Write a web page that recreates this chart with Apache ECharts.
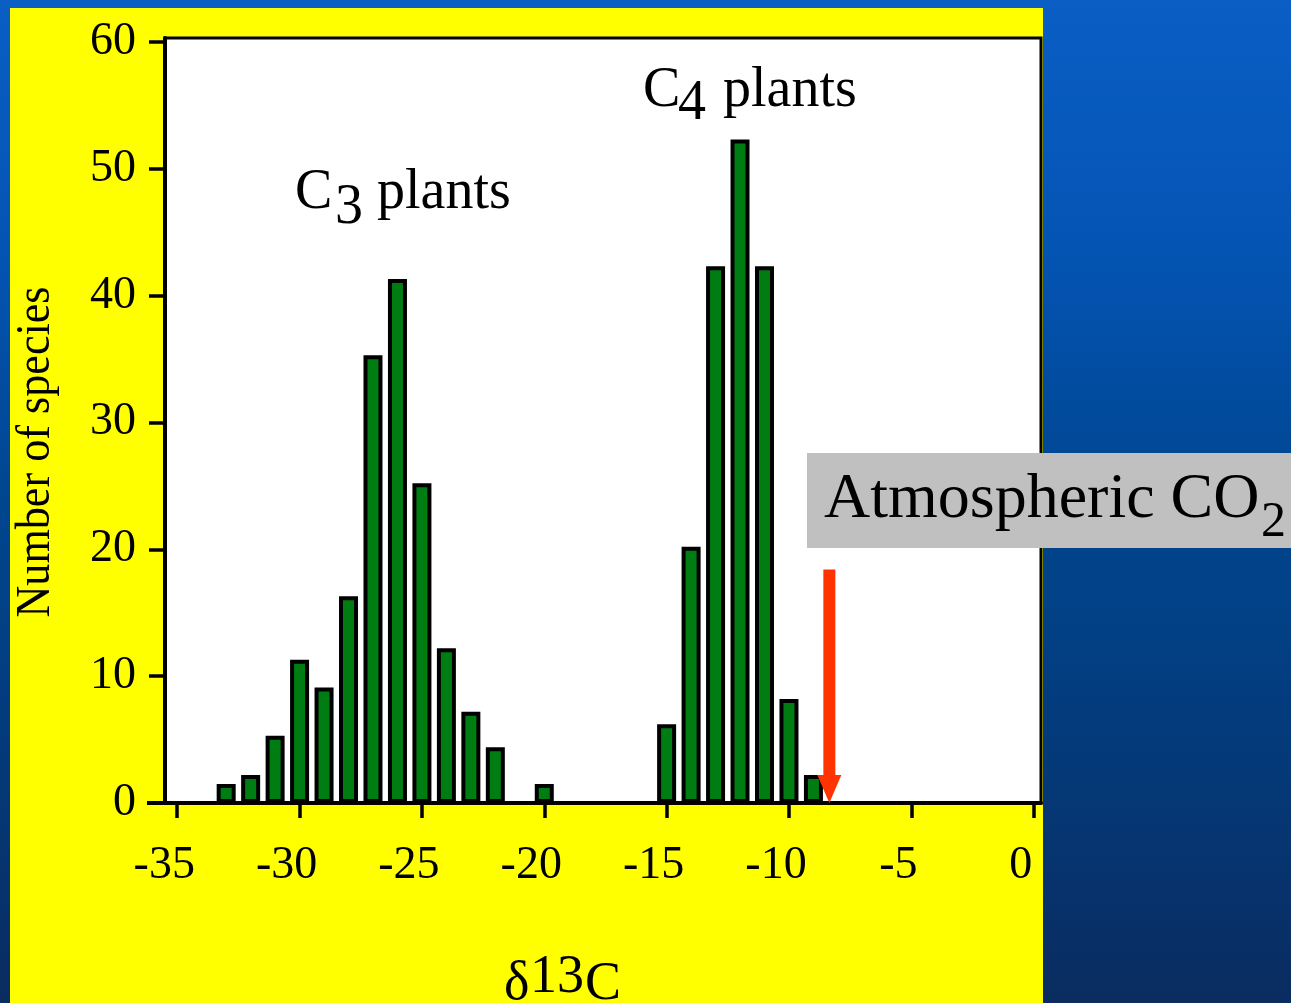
<!DOCTYPE html>
<html>
<head>
<meta charset="utf-8">
<script src="https://cdn.jsdelivr.net/npm/echarts@6/dist/echarts.min.js"></script>
<style>
html,body{margin:0;padding:0;width:1291px;height:1003px;overflow:hidden;
background:linear-gradient(180deg,#0a5ec4 0%,#0454b4 25%,#00468f 50%,#043a7a 75%,#0a2c60 100%);}
#chart{width:1291px;height:1003px;}
</style>
</head>
<body>
<div id="chart"></div>
<script>
// ---- data ----
const xTickValues = [-35, -30, -25, -20, -15, -10, -5, 0];
const yTickValues = [0, 10, 20, 30, 40, 50, 60];
const binCenters = [-33, -32, -31, -30, -29, -28, -27, -26, -25, -24, -23, -22, -20,
                    -15, -14, -13, -12, -11, -10, -9];
const speciesCounts = [1.5, 2.2, 5.3, 11.3, 9.1, 16.3, 35.3, 41.3, 25.2, 12.2, 7.2, 4.4, 1.5,
                       6.2, 20.2, 42.3, 52.3, 42.3, 8.2, 2.2];
const atmosphericCO2 = [-8.35];   // delta13C of atmospheric CO2 (arrow position)
const arrowTopValue = [18.4];     // arrow start height (species axis units)

const FONT = '"Liberation Serif","DejaVu Serif",serif';
const GREEN = '#007d12';

const chart = echarts.init(document.getElementById('chart'), null, {renderer: 'canvas'});

const barData = binCenters.map((x, i) => [x, speciesCounts[i]]);
const arrowData = atmosphericCO2.map((x, i) => [x, arrowTopValue[i]]);

function txt(text, x, y, size, extra) {
  return Object.assign({
    type: 'text', x: x, y: y, z: 50,
    style: {text: text, fill: '#000', font: size + 'px ' + FONT, align: 'left', verticalAlign: 'middle'}
  }, extra || {});
}

const option = {
  backgroundColor: 'transparent',
  animation: false,
  grid: {
    left: 165, top: 38, right: 250, bottom: 200,
    show: true, backgroundColor: '#ffffff', borderColor: '#000', borderWidth: 3
  },
  xAxis: {
    type: 'value', min: -35.5, max: 0.3,
    splitLine: {show: false},
    axisLine: {show: true, onZero: false, lineStyle: {color: '#000', width: 4}},
    axisTick: {show: true, length: 15, customValues: xTickValues, lineStyle: {color: '#000', width: 3.5}},
    axisLabel: {
      customValues: xTickValues, color: '#000', fontFamily: FONT, fontSize: 46, margin: 40,
      padding: [0, 26, 0, 0],
      formatter: v => String(v)
    }
  },
  yAxis: {
    type: 'value', min: 0, max: 60.3,
    splitLine: {show: false},
    axisLine: {show: true, onZero: false, lineStyle: {color: '#000', width: 4}},
    axisTick: {show: true, length: 16, customValues: yTickValues, lineStyle: {color: '#000', width: 3.5}},
    axisLabel: {
      customValues: yTickValues, color: '#000', fontFamily: FONT, fontSize: 46, margin: 29,
      padding: [0, 0, 12, 0],
      formatter: v => String(v)
    }
  },
  series: [
    {
      type: 'bar',
      data: barData,
      barWidth: 19,
      itemStyle: {color: GREEN, borderColor: '#000', borderWidth: 4}
    },
    {
      type: 'custom',
      data: arrowData,
      z: 5,
      renderItem: function (params, api) {
        const top = api.coord([api.value(0), api.value(1)]);
        const base = api.coord([api.value(0), 0]);
        const headH = 28, shaftW = 12, headW = 24;
        return {
          type: 'group',
          children: [
            {type: 'rect', shape: {x: top[0] - shaftW / 2, y: top[1], width: shaftW, height: base[1] - headH - top[1] + 1},
             style: {fill: '#ff3300'}},
            {type: 'polygon', shape: {points: [[top[0] - headW / 2, base[1] - headH], [top[0] + headW / 2, base[1] - headH], [top[0], base[1]]]},
             style: {fill: '#ff3300'}}
          ]
        };
      }
    }
  ],
  graphic: [
    {type: 'rect', z: -10, shape: {x: 10, y: 8, width: 1033, height: 1000}, style: {fill: '#ffff00'}},
    // y-axis name
    {type: 'text', x: 36, y: 452, rotation: Math.PI / 2, scaleX: 0.92, z: 50,
     style: {text: 'Number of species', fill: '#000', font: '48px ' + FONT, align: 'center', verticalAlign: 'middle'}},
    // x-axis name  δ13C
    txt('δ', 504, 985, 54),
    txt('13', 530, 978, 54),
    txt('C', 585, 985, 54),
    // C3 plants
    txt('C', 295, 193.5, 56),
    txt('3', 335, 208.5, 56),
    txt('plants', 377, 193.5, 56),
    // C4 plants
    txt('C', 643, 91.5, 56),
    txt('4', 678, 104.5, 56),
    txt('plants', 723, 91.5, 56),
    // Atmospheric CO2 box
    {type: 'rect', z: 60, shape: {x: 807, y: 453, width: 484, height: 95}, style: {fill: '#c0c0c0'}},
    txt('Atmospheric CO', 824, 500, 64, {z: 61}),
    txt('2', 1261, 522.5, 50, {z: 61})
  ]
};

chart.setOption(option);

// extend the x-axis line a little to the left of the y axis, as in the original
const origin = chart.convertToPixel({gridIndex: 0}, [-35.5, 0]);
chart.setOption({
  graphic: option.graphic.concat([
    {type: 'line', z: 40, shape: {x1: origin[0] - 18, y1: origin[1], x2: origin[0], y2: origin[1]},
     style: {stroke: '#000', lineWidth: 4}}
  ])
});
</script>
</body>
</html>
